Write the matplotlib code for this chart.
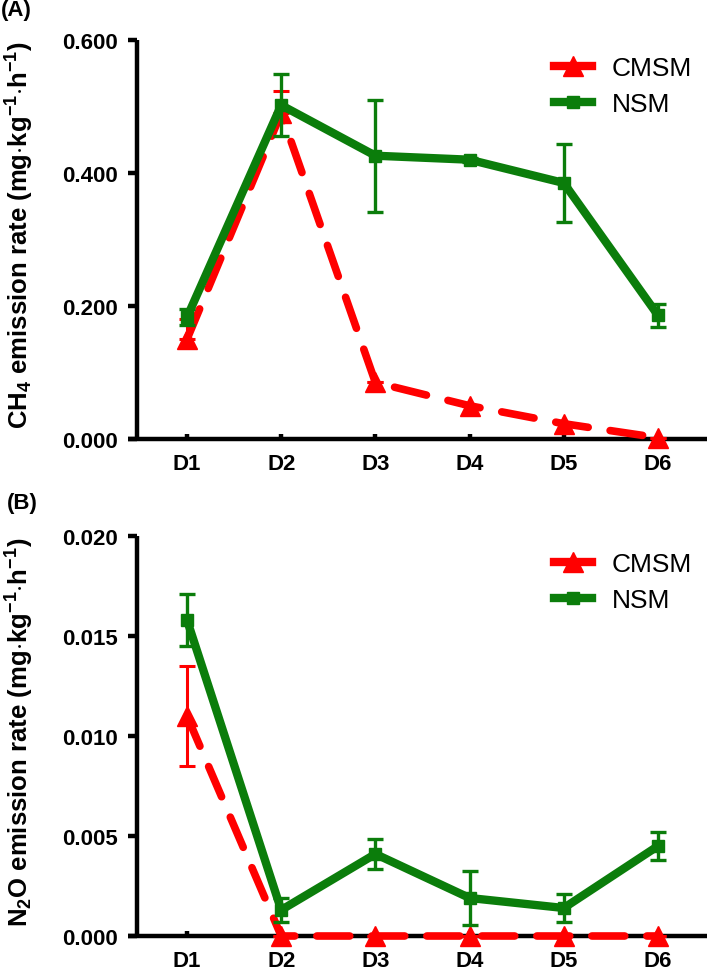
import matplotlib
matplotlib.use("Agg")
import matplotlib.pyplot as plt
from matplotlib.lines import Line2D

days = ["D1", "D2", "D3", "D4", "D5", "D6"]

ch4_cmsm = [0.150, 0.490, 0.085, 0.050, 0.023, 0.002]
ch4_cmsm_err_lo = [0.0, 0.0, 0.0, 0.0, 0.0, 0.0]
ch4_cmsm_err_hi = [0.030, 0.033, 0.0, 0.0, 0.0, 0.0]
ch4_nsm = [0.183, 0.502, 0.426, 0.420, 0.385, 0.186]
ch4_nsm_err = [0.012, 0.047, 0.084, 0.003, 0.059, 0.017]

n2o_cmsm = [0.0110, 0.0, 0.0, 0.0, 0.0, 0.0]
n2o_cmsm_err_lo = [0.0025, 0.0, 0.0, 0.0, 0.0, 0.0]
n2o_cmsm_err_hi = [0.0025, 0.0, 0.0, 0.0, 0.0, 0.0]
n2o_nsm = [0.0158, 0.0013, 0.0041, 0.0019, 0.0014, 0.0045]
n2o_nsm_err = [0.0013, 0.0006, 0.00075, 0.00136, 0.0007, 0.0007]

plt.rcParams['font.family'] = ['Liberation Sans', 'DejaVu Sans']
plt.rcParams['mathtext.fontset'] = 'custom'
plt.rcParams['mathtext.rm'] = 'Liberation Sans:bold'
plt.rcParams['mathtext.bf'] = 'Liberation Sans:bold'
plt.rcParams['mathtext.default'] = 'bf'

RED = '#FF0000'
GREEN = '#0B7D0B'

W, H = 709, 970
fig = plt.figure(figsize=(W / 100, H / 100), dpi=100)

AX_L, AX_R = 128, 707
SPINE_X = 137


def make_axes(top_px, bot_px):
    return fig.add_axes([AX_L / W, 1 - bot_px / H, (AX_R - AX_L) / W,
                         (bot_px - top_px) / H])


ax1 = make_axes(41, 440)
ax2 = make_axes(537, 937)

x = list(range(1, len(days) + 1))
x_left = 1 - (187 - AX_L) / 94.2
x_right = 6 + (AX_R - 658) / 94.2


def draw(ax, cm, cme, ns, nse, ylim, ticks, ylabel, panel, ylab_center, panel_xy):
    ax.errorbar(x, cm, yerr=cme, color=RED, lw=5.5, ls=(0, (4.3, 2.9)),
                dash_capstyle='round', marker='^', ms=14, ecolor=RED,
                elinewidth=2.2, capsize=6, capthick=2.2, zorder=3,
                clip_on=False)
    ax.errorbar(x, ns, yerr=nse, color=GREEN, lw=6, ls='-',
                marker='s', ms=8, ecolor=GREEN, elinewidth=2.4, capsize=6,
                capthick=2.4, zorder=4, clip_on=False)
    ax.set_xlim(x_left, x_right)
    ax.set_ylim(*ylim)
    ax.set_yticks(ticks)
    ax.set_yticklabels(['{:.3f}'.format(t) for t in ticks])
    ax.set_xticks(x)
    ax.set_xticklabels(days)
    for s in ['top', 'right']:
        ax.spines[s].set_visible(False)
    for s in ['left', 'bottom']:
        ax.spines[s].set_linewidth(3.2)
        ax.spines[s].set_capstyle('butt')
    ax.spines['left'].set_position(('axes', (SPINE_X - AX_L) / (AX_R - AX_L)))
    ax.tick_params(axis='y', width=3.2, length=6.5, direction='out',
                   labelsize=16, pad=7)
    ax.tick_params(axis='x', width=3.2, length=3.5, direction='in',
                   labelsize=16, pad=10)
    for lab in ax.get_xticklabels() + ax.get_yticklabels():
        lab.set_fontweight('bold')
    fig.text(20 / W, 1 - ylab_center / H, ylabel, rotation=90, ha='center',
             va='center', fontsize=18.5, fontweight='bold')
    handles = [
        Line2D([], [], color=RED, lw=6, marker='^', ms=14),
        Line2D([], [], color=GREEN, lw=6, marker='s', ms=8),
    ]
    ax.legend(handles, ['CMSM', 'NSM'], loc='upper left', frameon=False,
              fontsize=19, handlelength=1.45, handletextpad=0.75,
              labelspacing=0.45, borderpad=0, borderaxespad=0,
              bbox_to_anchor=(554 / W, 1 - panel_xy[2] / H),
              bbox_transform=fig.transFigure)
    fig.text(panel_xy[0] / W, 1 - panel_xy[1] / H, panel, fontsize=16,
             fontweight='bold', va='top', ha='left')


draw(ax1, ch4_cmsm, [ch4_cmsm_err_lo, ch4_cmsm_err_hi], ch4_nsm, ch4_nsm_err,
     (0, 0.6), [0.0, 0.2, 0.4, 0.6],
     r'CH$_{4}$ emission rate (mg$\cdot$kg$^{-1}$$\cdot$h$^{-1}$)', '(A)',
     235, (1, 0, 57))
draw(ax2, n2o_cmsm, [n2o_cmsm_err_lo, n2o_cmsm_err_hi], n2o_nsm, n2o_nsm_err,
     (0, 0.02), [0.0, 0.005, 0.010, 0.015, 0.020],
     r'N$_{2}$O emission rate (mg$\cdot$kg$^{-1}$$\cdot$h$^{-1}$)', '(B)',
     732, (7, 493, 553))

fig.savefig('out.png', dpi=100)
